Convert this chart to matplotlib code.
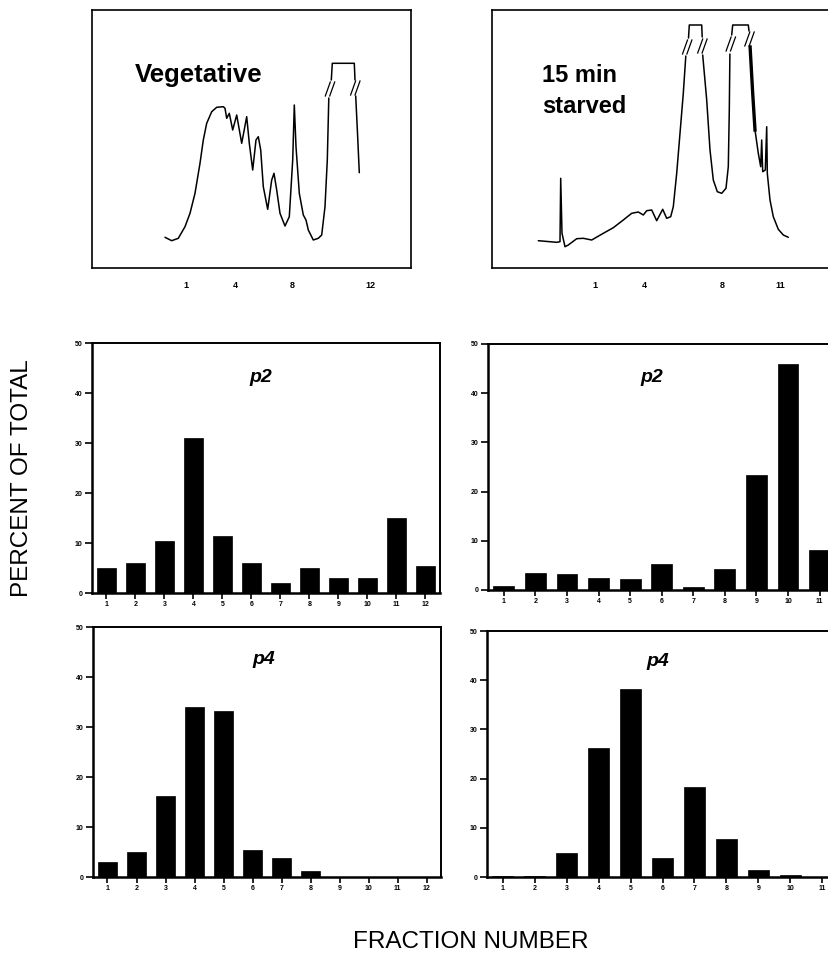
import matplotlib
matplotlib.use('Agg')
import matplotlib.pyplot as plt

W, H = 829, 959

# ---------------- data ----------------
fractions_veg = list(range(1, 13))
fractions_starved = list(range(1, 12))
p2_veg = [5, 6, 10.5, 31, 11.5, 6, 2, 5, 3, 3, 15, 5.5]
p4_veg = [3, 5, 16.2, 34, 33.3, 5.5, 3.8, 1.2, 0, 0, 0, 0]
p2_starved = [0.8, 3.5, 3.2, 2.4, 2.3, 5.2, 0.7, 4.3, 23.3, 46, 8.2]
p4_starved = [0.2, 0.2, 4.8, 26.2, 38.3, 3.8, 18.3, 7.8, 1.5, 0.4, 0.1]
y_ticks = [0, 10, 20, 30, 40, 50]

# chromatogram traces (elution position, absorbance; arbitrary units)
veg_a_x = [73, 79.7, 86.3, 93, 98, 103, 108, 111.3, 114.7, 119.7, 124.7, 131.3, 133,
           134.7, 137.3, 140.7, 144.7, 149.7, 154.7, 157.3, 160.7, 164, 166.3, 168.7,
           171.3, 175.7, 179.7, 182, 184.7, 188, 193, 197.3, 200.7, 202.3, 204, 207.3,
           211.3, 214, 216.3, 221.3, 226.3, 229.7, 233, 235.3, 236.8]
veg_a_y = [30.7, 27.3, 29.7, 41.3, 54.7, 74.7, 104.7, 128, 144.7, 156.3, 160.7, 161.3,
           159.7, 149.7, 154.7, 138, 153, 124.7, 151.3, 124.7, 98, 128, 131.3, 118, 81.3,
           58.7, 88, 94.7, 78, 54.7, 42, 51.3, 108, 163, 121.3, 74.7, 53, 48, 38, 28,
           29.7, 33, 61.3, 108, 170]
veg_b_x = [239.3, 240.3, 262.3, 263]
veg_b_y = [188, 204.7, 204.7, 188]
veg_c_x = [263.7, 265.5, 267.3]
veg_c_y = [172, 135, 95.3]
veg_breaks = [(238, 179), (263.3, 180)]
veg_ticks = [94, 143, 200.5, 278]
veg_ticklabels = ['1', '4', '8', '12']

st_a_x = [46.3, 64.7, 68, 68.7, 70, 73, 76.3, 84.7, 91.3, 99.7, 111.3, 121.3, 131.3,
          139.7, 146.3, 151.3, 154.7, 159.7, 164.7, 170.7, 174.7, 178.7, 181.3, 184.7,
          188, 191.3, 193.8]
st_a_y = [27.3, 25.7, 26.3, 89.7, 34.7, 21.3, 23, 29.3, 29.7, 28, 34.7, 40.3, 48, 54.7,
          56, 53, 57.3, 58, 47.3, 58.7, 49.7, 51.3, 61.3, 94.7, 134.7, 174.7, 212]
st_b_x = [196.5, 197.3, 209.7, 210.2]
st_b_y = [230, 243, 243, 231]
st_c_x = [210.7, 214.7, 218, 221.3, 225.3, 229.7, 234, 236.3, 237.3, 237.9]
st_c_y = [213, 168, 118, 88, 76.3, 74.7, 79.7, 101.3, 158, 214]
st_d_x = [239.7, 240.7, 256.3, 257]
st_d_y = [233, 243, 243, 237]
st_e_x = [258.1, 258.7, 260.7, 263, 266.3, 268.7, 269.7, 270.7, 273.3, 274.7, 275.3,
          278, 281.3, 286.3, 291.3, 296.3]
st_e_y = [221, 214.7, 174.7, 138, 114.7, 101.3, 128, 96.3, 98, 141.3, 94.7, 68, 51.3,
          38.7, 33, 30.7]
st_thick_x = [258.1, 260.7, 263]
st_thick_y = [221, 174.7, 138]
st_breaks = [(195.2, 221), (210.4, 222), (238.8, 224), (257.5, 229)]
st_ticks = [103, 152, 230.3, 288]
st_ticklabels = ['1', '4', '8', '11']

# ---------------- figure ----------------
fig = plt.figure(figsize=(W / 100, H / 100), dpi=100)
fig.patch.set_facecolor('white')
plt.rcParams['font.family'] = ['Liberation Sans', 'DejaVu Sans']


def box(l, t, r, b):
    return [l / W, 1 - b / H, (r - l) / W, (b - t) / H]


def chrom_axes(rect, xmax, segs, breaks, ticks, labels, thick=None):
    ax = fig.add_axes(rect)
    ax.set_xlim(0, xmax)
    ax.set_ylim(0, 258)
    for sx, sy in segs:
        ax.plot(sx, sy, color='black', lw=1.1, solid_joinstyle='round',
                solid_capstyle='round')
    if thick is not None:
        ax.plot(thick[0], thick[1], color='black', lw=2.4)
    for cx, cy in breaks:
        for dx in (-2.2, 2.2):
            ax.plot([cx + dx - 2.5, cx + dx + 2.5], [cy - 7, cy + 7], color='black', lw=0.9)
    ax.set_yticks([])
    ax.set_xticks(ticks)
    ax.set_xticklabels(labels, fontsize=6.5, fontweight='bold')
    ax.tick_params(axis='x', length=0, pad=9)
    for s in ax.spines.values():
        s.set_linewidth(1.2)
    return ax


ax1 = chrom_axes(box(92, 10, 411, 268), 319,
                 [(veg_a_x, veg_a_y), (veg_b_x, veg_b_y), (veg_c_x, veg_c_y)],
                 veg_breaks, veg_ticks, veg_ticklabels)
ax1.text(43, 186, 'Vegetative', fontsize=18.5, fontweight='bold', ha='left', va='baseline')

ax2 = chrom_axes(box(492, 10, 837, 268), 345,
                 [(st_a_x, st_a_y), (st_b_x, st_b_y), (st_c_x, st_c_y),
                  (st_d_x, st_d_y), (st_e_x, st_e_y)],
                 st_breaks, st_ticks, st_ticklabels, thick=(st_thick_x, st_thick_y))
ax2.text(49.7, 186.3, '15 min', fontsize=17, fontweight='bold', ha='left', va='baseline')
ax2.text(49.7, 155, 'starved', fontsize=17, fontweight='bold', ha='left', va='baseline')


def bar_axes(rect, fr, vals):
    ax = fig.add_axes(rect)
    ax.bar(fr, vals, width=0.66, color='black', edgecolor='black', linewidth=0.5)
    ax.set_xlim(0.5, 12.5)
    ax.set_ylim(0, 50)
    ax.set_yticks(y_ticks)
    ax.set_yticklabels([str(v) for v in y_ticks], fontsize=5, fontweight='bold')
    ax.set_xticks(fr)
    ax.set_xticklabels([str(v) for v in fr], fontsize=5, fontweight='bold')
    ax.tick_params(axis='y', direction='out', length=5, width=1.2, pad=2)
    ax.tick_params(axis='x', direction='out', length=4, width=1.2, pad=2)
    for s in ax.spines.values():
        s.set_linewidth(1.4)
    ax.spines['left'].set_linewidth(1.8)
    ax.spines['bottom'].set_linewidth(1.8)
    return ax


bar_axes(box(92, 343, 440, 593), fractions_veg, p2_veg)
bar_axes(box(488, 344, 867, 590), fractions_starved, p2_starved)
bar_axes(box(93, 627, 441, 877), fractions_veg, p4_veg)
bar_axes(box(487, 631, 870, 877), fractions_starved, p4_starved)

for (px, py, t) in [(261, 378, 'p2'), (652, 378, 'p2'), (264, 660, 'p4'), (658, 662, 'p4')]:
    fig.text(px / W, 1 - py / H, t, fontsize=14, style='italic', fontweight='bold',
             ha='center', va='center')

fig.text(22 / W, 1 - 478 / H, 'PERCENT OF TOTAL', rotation=90, fontsize=17.5,
         ha='center', va='center')
fig.text(471 / W, 1 - 942 / H, 'FRACTION NUMBER', fontsize=17.5, ha='center', va='center')

fig.savefig('out.png', dpi=100, facecolor='white')
